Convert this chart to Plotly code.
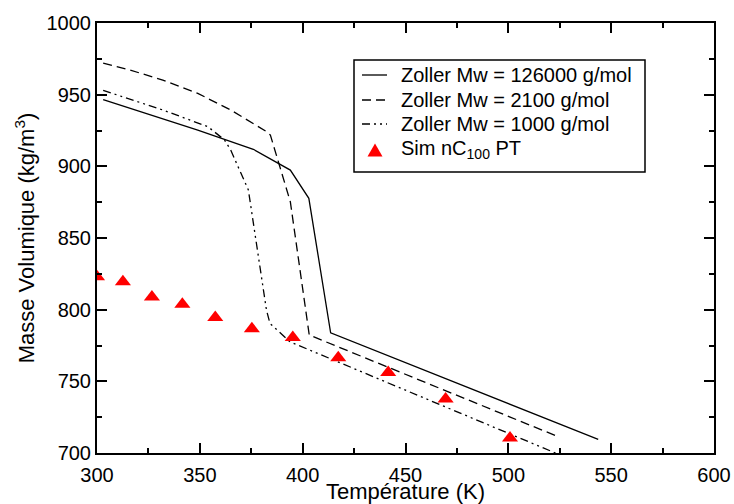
import plotly.graph_objects as go

# Zoller Mw = 126000 g/mol
t_126000 = [303, 349, 376, 384, 394, 403, 413.6, 543.7]
rho_126000 = [946.5, 925.3, 911.9, 905.6, 897.4, 877.7, 783.9, 709.5]

# Zoller Mw = 2100 g/mol
t_2100 = [303, 316, 332, 349, 365, 382.6, 384.3, 394, 403.2, 523.2]
rho_2100 = [972, 967.2, 960.2, 950.9, 939.3, 924.1, 921.8, 875.3, 782.3, 712]

# Zoller Mw = 1000 g/mol
t_1000 = [303, 332, 354, 362, 365, 373.6, 382.4, 384.1, 393.8, 523.4]
rho_1000 = [953, 939.3, 927.6, 918.4, 911.4, 883.5, 799.7, 790.4, 777.6, 699.7]

# Sim nC100 PT
t_sim = [300, 312.6, 326.7, 341.5, 357.5, 375.3, 395.2, 417.3, 441.6, 469.5, 500.8]
rho_sim = [823.0, 819.5, 808.8, 803.7, 794.6, 786.7, 780.6, 766.4, 756.1, 737.7, 710.4]

x_ticks = [300, 350, 400, 450, 500, 550, 600]
y_ticks = [700, 750, 800, 850, 900, 950, 1000]

series_names = ["Zoller Mw = 126000 g/mol", "Zoller Mw = 2100 g/mol",
                "Zoller Mw = 1000 g/mol", "Sim nC<sub>100</sub> PT"]

FONT = "Liberation Sans, Arial, Helvetica, sans-serif"
DASH_2100 = "9px,5px"
DASH_1000 = "8px,4px,2px,4px,2px,4px"

fig = go.Figure()
fig.add_trace(go.Scatter(x=t_126000, y=rho_126000, mode="lines", name=series_names[0],
                         line=dict(color="black", width=1.3)))
fig.add_trace(go.Scatter(x=t_2100, y=rho_2100, mode="lines", name=series_names[1],
                         line=dict(color="black", width=1.3, dash=DASH_2100)))
fig.add_trace(go.Scatter(x=t_1000, y=rho_1000, mode="lines", name=series_names[2],
                         line=dict(color="black", width=1.3, dash=DASH_1000)))
fig.add_trace(go.Scatter(x=t_sim, y=rho_sim, mode="markers", name=series_names[3],
                         marker=dict(symbol="triangle-up", size=14, color="#ff0000",
                                     line=dict(width=0))))

axis_common = dict(
    showgrid=False, zeroline=False,
    showline=True, linecolor="black", linewidth=2,
    mirror="ticks", ticks="inside", ticklen=10, tickwidth=1.5, tickcolor="black",
    tickfont=dict(family=FONT, size=20, color="black"),
    minor=dict(ticks="inside", ticklen=5, tickwidth=1.5, tickcolor="black"),
)

fig.update_xaxes(range=[300, 600], tickvals=x_ticks, ticktext=[str(v) for v in x_ticks],
                 minor_dtick=25, minor_tick0=300, ticklabelstandoff=3,
                 title=dict(text="Température (K)", font=dict(family=FONT, size=22, color="black"),
                            standoff=0),
                 **axis_common)
fig.update_yaxes(range=[700, 1000], tickvals=y_ticks, ticktext=[str(v) for v in y_ticks],
                 minor_dtick=25, minor_tick0=700,
                 title=dict(text="Masse Volumique (kg/m<sup>3</sup>)",
                            font=dict(family=FONT, size=22, color="black"), standoff=6),
                 **axis_common)

# ---- legend box (drawn in plot-area paper coordinates) ----
L, R, T, B = 97, 714, 23, 453


def px(xp):
    return (xp - L) / (R - L)


def py(yp):
    return (B - yp) / (B - T)


shapes = [dict(type="rect", xref="paper", yref="paper",
               x0=px(354), x1=px(645), y0=py(172), y1=py(60),
               line=dict(color="black", width=1.5), fillcolor="white", layer="above")]
row_y = [75, 100, 124, 150]
dashes = ["solid", DASH_2100, DASH_1000]
for yy, d in zip(row_y[:3], dashes):
    shapes.append(dict(type="line", xref="paper", yref="paper",
                       x0=px(362), x1=px(387), y0=py(yy), y1=py(yy),
                       line=dict(color="black", width=1.3, dash=d), layer="above"))
shapes.append(dict(type="path", xref="paper", yref="paper",
                   xsizemode="pixel", ysizemode="pixel",
                   xanchor=px(375), yanchor=py(151.5),
                   path="M-7.5,-5 L7.5,-5 L0,8 Z",
                   fillcolor="#ff0000", line=dict(width=0), layer="above"))

annotations = []
for yy, name in zip(row_y, series_names):
    annotations.append(dict(xref="paper", yref="paper", x=px(399), y=py(yy),
                            xanchor="left", yanchor="middle", showarrow=False,
                            text=name, font=dict(family=FONT, size=20, color="black")))

fig.update_layout(
    width=734, height=504,
    margin=dict(l=97, r=20, t=23, b=51, autoexpand=False),
    paper_bgcolor="white", plot_bgcolor="white",
    font=dict(family=FONT, size=20, color="black"),
    showlegend=False,
    shapes=shapes,
    annotations=annotations,
)

fig.write_html("out.html", config={"displayModeBar": False},
               post_script="document.body.style.margin='0';document.body.style.overflow='hidden';")
